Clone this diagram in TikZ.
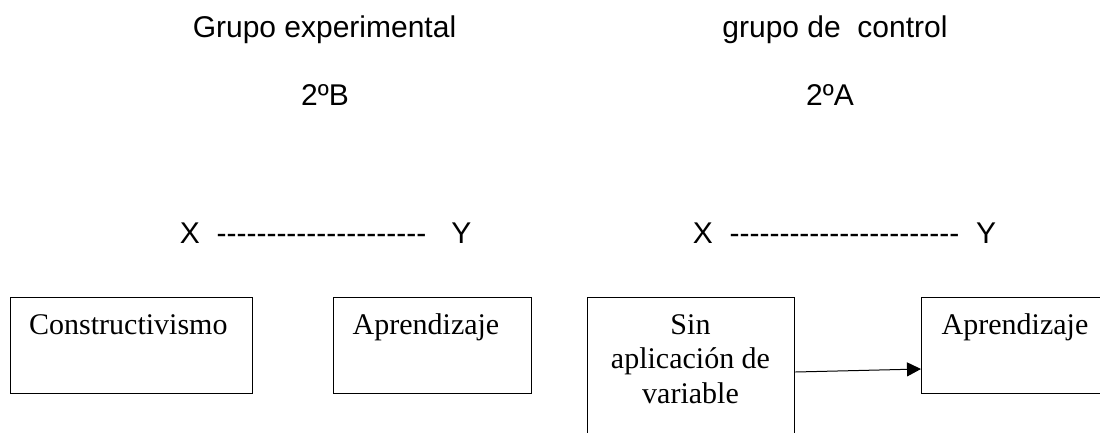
\documentclass[tikz,border=0pt]{standalone}
\usepackage{fontspec}
\setmainfont{Liberation Serif}
\newfontfamily\arial{Liberation Sans}[Ligatures=TeXOff]
\usetikzlibrary{arrows.meta,calc}
\tikzset{
  boxnode/.style={draw=black,line width=1.3pt,inner sep=0pt,anchor=north west},
  headtext/.style={inner sep=0pt,font=\arial\fontsize{30}{34}\selectfont},
  boxtext/.style={inner sep=0pt,font=\fontsize{30}{34.5}\selectfont},
  link/.style={line width=1pt,-{Triangle[length=14pt,width=14pt]}}
}
\begin{document}
\begin{tikzpicture}[x=1pt,y=-1pt]
\clip (0,0) rectangle (1100,432);
\fill[white] (0,0) rectangle (1100,432);
% headings
\node[headtext,anchor=base] (t1) at (324.5,37) {Grupo experimental};
\node[headtext,anchor=base] (t2) at (325,105) {2ºB};
\node[headtext,anchor=base] (t3) at (835,37) {grupo de\ \ control};
\node[headtext,anchor=base] (t4) at (830,105) {2ºA};
\node[headtext,anchor=base west] (xy1) at (179.7,243) {X\ \ ---------------------\ \ \ Y};
\node[headtext,anchor=base west] (xy2) at (692.7,243) {X\ \ -----------------------\ \ Y};
% boxes
\node[boxnode,minimum width=242pt,minimum height=96pt] (b1) at (10,297) {};
\node[boxnode,minimum width=198pt,minimum height=96pt] (b2) at (333,297) {};
\node[boxnode,minimum width=207pt,minimum height=160pt] (b3) at (587,297) {};
\node[boxnode,minimum width=220pt,minimum height=96pt] (b4) at (921,297) {};
% box texts
\node[boxtext,anchor=base west] (c1) at (29,334) {Constructivismo};
\node[boxtext,anchor=base west] (a1) at (352.5,334) {Aprendizaje};
\node[boxtext,anchor=base,align=center] (s1) at (690.5,403) {Sin\\aplicación de\\variable};
\node[boxtext,anchor=base west] (a2) at (941.5,334) {Aprendizaje};
% arrow
\draw[link] ($(b3.north east)+(0,75)$) -- ($(b4.north west)+(0,72)$);
\end{tikzpicture}
\end{document}
